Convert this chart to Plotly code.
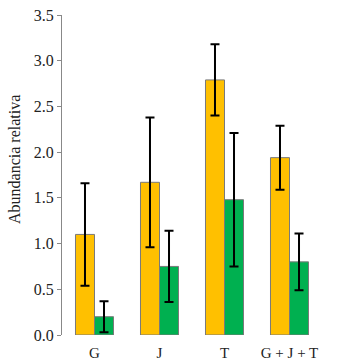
import plotly.graph_objects as go

categories = ["G", "J", "T", "G + J + T"]
orange_values = [1.10, 1.67, 2.79, 1.94]
orange_errors = [0.56, 0.71, 0.39, 0.35]
green_values = [0.20, 0.75, 1.48, 0.80]
green_errors = [0.17, 0.39, 0.73, 0.31]
y_tickvals = [0, 0.5, 1.0, 1.5, 2.0, 2.5, 3.0, 3.5]
y_ticktext = ["0.0", "0.5", "1.0", "1.5", "2.0", "2.5", "3.0", "3.5"]

FONT = "Liberation Serif, Times New Roman, serif"

fig = go.Figure()
fig.add_trace(go.Bar(
    x=categories, y=orange_values, name="A",
    marker=dict(color="#FFC000", line=dict(color="#7a7a7a", width=1)),
    error_y=dict(type="data", array=orange_errors, visible=True,
                 color="black", thickness=2, width=4.5),
))
fig.add_trace(go.Bar(
    x=categories, y=green_values, name="B",
    marker=dict(color="#00B050", line=dict(color="#7a7a7a", width=1)),
    error_y=dict(type="data", array=green_errors, visible=True,
                 color="black", thickness=2, width=4.5),
))

fig.update_layout(
    width=342, height=364,
    margin=dict(l=62, r=20, t=15, b=29),
    paper_bgcolor="white", plot_bgcolor="white",
    barmode="group", bargap=0.415, bargroupgap=0,
    showlegend=False,
    font=dict(family=FONT, color="#222222"),
    xaxis=dict(showline=False, ticks="", showgrid=False, ticklabelstandoff=7,
               automargin=False,
               tickfont=dict(family=FONT, size=15, color="#222222")),
    yaxis=dict(range=[0, 3.5], tickvals=y_tickvals, ticktext=y_ticktext,
               showline=True, linecolor="#888888", linewidth=1,
               ticks="outside", ticklen=4, tickcolor="#888888",
               showgrid=False, zeroline=False, automargin=False,
               tickfont=dict(family=FONT, size=16, color="#222222")),
    annotations=[dict(text="Abundancia relativa", textangle=-90,
                      xref="paper", yref="paper",
                      x=(14 - 62) / 260, y=(335 - 160) / 320,
                      xanchor="center", yanchor="middle", showarrow=False,
                      font=dict(family=FONT, size=16, color="#222222"))],
)

fig.write_html("out.html",
               config={"displayModeBar": False},
               post_script="document.body.style.margin='0';document.body.style.overflow='hidden';")
